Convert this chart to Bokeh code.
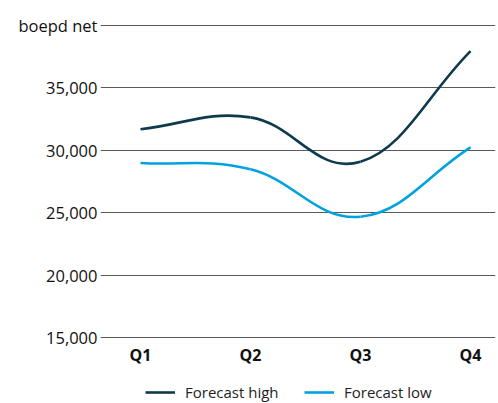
from bokeh.plotting import figure
from bokeh.models import Range1d, FixedTicker, Legend, LegendItem, NumeralTickFormatter
from bokeh.embed import file_html
from bokeh.resources import INLINE

quarters = ["Q1", "Q2", "Q3", "Q4"]
forecast_high = [31700, 32650, 29100, 37950]
forecast_low = [29000, 28500, 24700, 30250]
y_ticks = [15000, 20000, 25000, 30000, 35000, 40000]
y_title = "boepd net"

HIGH_COLOR = "#0f3a4e"
LOW_COLOR = "#00a3e0"
FONT = "Open Sans"

x = list(range(len(quarters)))

# frame runs to the bottom edge so the legend below the axis is not clipped
p = figure(width=498, height=403, output_backend="svg", toolbar_location=None,
           x_range=Range1d(-0.3636, 3.227), y_range=Range1d(9752, 40160),
           min_border_left=100, min_border_right=3, min_border_top=23, min_border_bottom=0)
p.outline_line_color = None
p.background_fill_color = "white"
p.border_fill_color = "white"
p.xgrid.visible = False
p.ygrid.grid_line_color = "#5a5a5a"
p.ygrid.grid_line_width = 1
p.ygrid.ticker = FixedTicker(ticks=y_ticks)

p.yaxis.ticker = FixedTicker(ticks=y_ticks)
p.yaxis.formatter = NumeralTickFormatter(format="0,0")
p.yaxis.major_label_overrides = {y_ticks[-1]: y_title}
p.yaxis.axis_line_color = None
p.yaxis.major_tick_line_color = None
p.yaxis.major_tick_out = 0
p.yaxis.major_tick_in = 0
p.yaxis.minor_tick_line_color = None
p.yaxis.major_label_standoff = 3
p.yaxis.major_label_text_font = FONT
p.yaxis.major_label_text_font_size = "16.5px"
p.yaxis.major_label_text_color = "#111111"

p.xaxis.ticker = FixedTicker(ticks=x)
p.xaxis.fixed_location = y_ticks[0]
p.xaxis.major_label_overrides = {i: q for i, q in enumerate(quarters)}
p.xaxis.axis_line_color = None
p.xaxis.major_tick_line_color = None
p.xaxis.major_tick_out = 0
p.xaxis.major_tick_in = 0
p.xaxis.minor_tick_line_color = None
p.xaxis.major_label_standoff = 6
p.xaxis.major_label_text_font = FONT
p.xaxis.major_label_text_font_style = "bold"
p.xaxis.major_label_text_font_size = "16px"
p.xaxis.major_label_text_color = "#111111"


def spline_segments(xs, ys, t=0.4):
    # cardinal-spline control points (rendering style only; data stays the 4 values)
    n = len(xs)
    segs = dict(x0=[], y0=[], x1=[], y1=[], cx0=[], cy0=[], cx1=[], cy1=[])
    nxt, prv = [], []
    for i in range(n):
        pi = max(i - 1, 0)
        ni = min(i + 1, n - 1)
        k = t if (i == 0 or i == n - 1) else t / 2
        dx = xs[ni] - xs[pi]
        dy = ys[ni] - ys[pi]
        nxt.append((xs[i] + k * dx, ys[i] + k * dy))
        prv.append((xs[i] - k * dx, ys[i] - k * dy))
    for i in range(n - 1):
        segs["x0"].append(xs[i]); segs["y0"].append(ys[i])
        segs["x1"].append(xs[i + 1]); segs["y1"].append(ys[i + 1])
        segs["cx0"].append(nxt[i][0]); segs["cy0"].append(nxt[i][1])
        segs["cx1"].append(prv[i + 1][0]); segs["cy1"].append(prv[i + 1][1])
    return segs


sh = spline_segments(x, forecast_high)
rh = p.bezier(x0=sh["x0"], y0=sh["y0"], x1=sh["x1"], y1=sh["y1"],
              cx0=sh["cx0"], cy0=sh["cy0"], cx1=sh["cx1"], cy1=sh["cy1"],
              line_color=HIGH_COLOR, line_width=2.6)
sl = spline_segments(x, forecast_low)
rl = p.bezier(x0=sl["x0"], y0=sl["y0"], x1=sl["x1"], y1=sl["y1"],
              cx0=sl["cx0"], cy0=sl["cy0"], cx1=sl["cx1"], cy1=sl["cy1"],
              line_color=LOW_COLOR, line_width=2.6)

legend = Legend(items=[LegendItem(label="Forecast high", renderers=[rh]),
                       LegendItem(label="Forecast low", renderers=[rl])],
                location=(45, 1), orientation="horizontal",
                glyph_width=30, glyph_height=18, label_standoff=10, spacing=11,
                label_width=108,
                padding=0, margin=0, border_line_color=None, background_fill_alpha=0,
                label_text_font=FONT, label_text_font_size="15px", label_text_color="#222222")
p.add_layout(legend, "center")

open("out.html", "w").write(file_html(p, INLINE))
